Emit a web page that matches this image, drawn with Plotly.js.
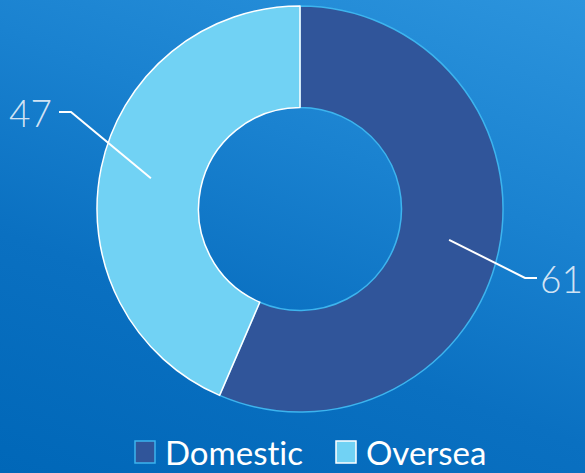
<!DOCTYPE html>
<html>
<head>
<meta charset="utf-8">
<script src="https://cdn.plot.ly/plotly-3.0.1.min.js"></script>
<style>
  html, body { margin: 0; padding: 0; }
  #chart {
    width: 585px; height: 473px;
    background: linear-gradient(200deg, #2C94DD 0%, #1A82D0 35%, #0A70C1 65%, #0067B8 100%);
  }
  svg text { font-variant-ligatures: none; font-feature-settings: "liga" 0, "clig" 0; }
</style>
</head>
<body>
<div id="chart"></div>
<script>
// ---- data ----
var categories = ['Domestic', 'Oversea'];
var values = [61, 47];
var sliceColors = ['#30559A', '#71D2F4'];
var edgeColors = ['#3DB4EE', '#FFFFFF'];

// ---- geometry (layout) ----
var W = 585, H = 473;
var cx = 300, cy = 209, R = 203;
var domX = [(cx - R) / W, (cx + R) / W];
var domY = [1 - (cy + R) / H, 1 - (cy - R) / H];

function px(x) { return x / W; }
function py(y) { return 1 - y / H; }

// mid-angle of each slice (clockwise from 12 o'clock)
var total = values.reduce(function (a, b) { return a + b; }, 0);
var acc = 0;
var mids = values.map(function (v) {
  var m = (acc + v / 2) / total * 2 * Math.PI;
  acc += v;
  return m;
});

// label placement (layout positions)
var labelPos = [
  { tx: 561, ty: 278, elbowX: 525, endX: 537 },
  { tx: 30, ty: 112, elbowX: 71, endX: 59 }
];

var shapes = [], annotations = [];
values.forEach(function (v, i) {
  var r = 0.75 * R;
  var sx = cx + r * Math.sin(mids[i]);
  var sy = cy - r * Math.cos(mids[i]);
  var L = labelPos[i];
  var path = 'M ' + px(sx) + ' ' + py(sy) +
             ' L ' + px(L.elbowX) + ' ' + py(L.ty) +
             ' L ' + px(L.endX) + ' ' + py(L.ty);
  shapes.push({
    type: 'path', xref: 'paper', yref: 'paper', path: path,
    line: { color: '#FFFFFF', width: 2 }
  });
  annotations.push({
    xref: 'paper', yref: 'paper', x: px(L.tx), y: py(L.ty),
    xanchor: 'center', yanchor: 'middle', showarrow: false,
    text: String(v),
    font: { family: 'Lato, "Open Sans", sans-serif', size: 37, weight: 300, color: 'rgba(235,242,250,0.9)' }
  });
});

var trace = {
  type: 'pie',
  labels: categories,
  values: values,
  hole: 0.5,
  sort: false,
  direction: 'clockwise',
  rotation: 0,
  textinfo: 'none',
  hoverinfo: 'none',
  domain: { x: domX, y: domY },
  marker: { colors: sliceColors, line: { color: edgeColors, width: 1.5 } }
};

var layout = {
  width: W, height: H,
  margin: { l: 0, r: 0, t: 0, b: 0, autoexpand: false },
  paper_bgcolor: 'rgba(0,0,0,0)',
  plot_bgcolor: 'rgba(0,0,0,0)',
  showlegend: true,
  legend: {
    orientation: 'h', x: px(125), xanchor: 'left', y: -7 / H, yanchor: 'bottom',
    bgcolor: 'rgba(0,0,0,0)',
    font: { family: 'Lato, "Open Sans", sans-serif', size: 33, color: '#FFFFFF' },
    entrywidth: 156, entrywidthmode: 'pixels'
  },
  shapes: shapes,
  annotations: annotations
};

Plotly.newPlot('chart', [trace], layout, { displayModeBar: false, staticPlot: true }).then(function (gd) {
  var pts = gd.querySelectorAll('.legend path.legendpie');
  pts.forEach(function (p) { p.setAttribute('d', 'M10,11H-10V-11H10Z'); });
});
</script>
</body>
</html>
